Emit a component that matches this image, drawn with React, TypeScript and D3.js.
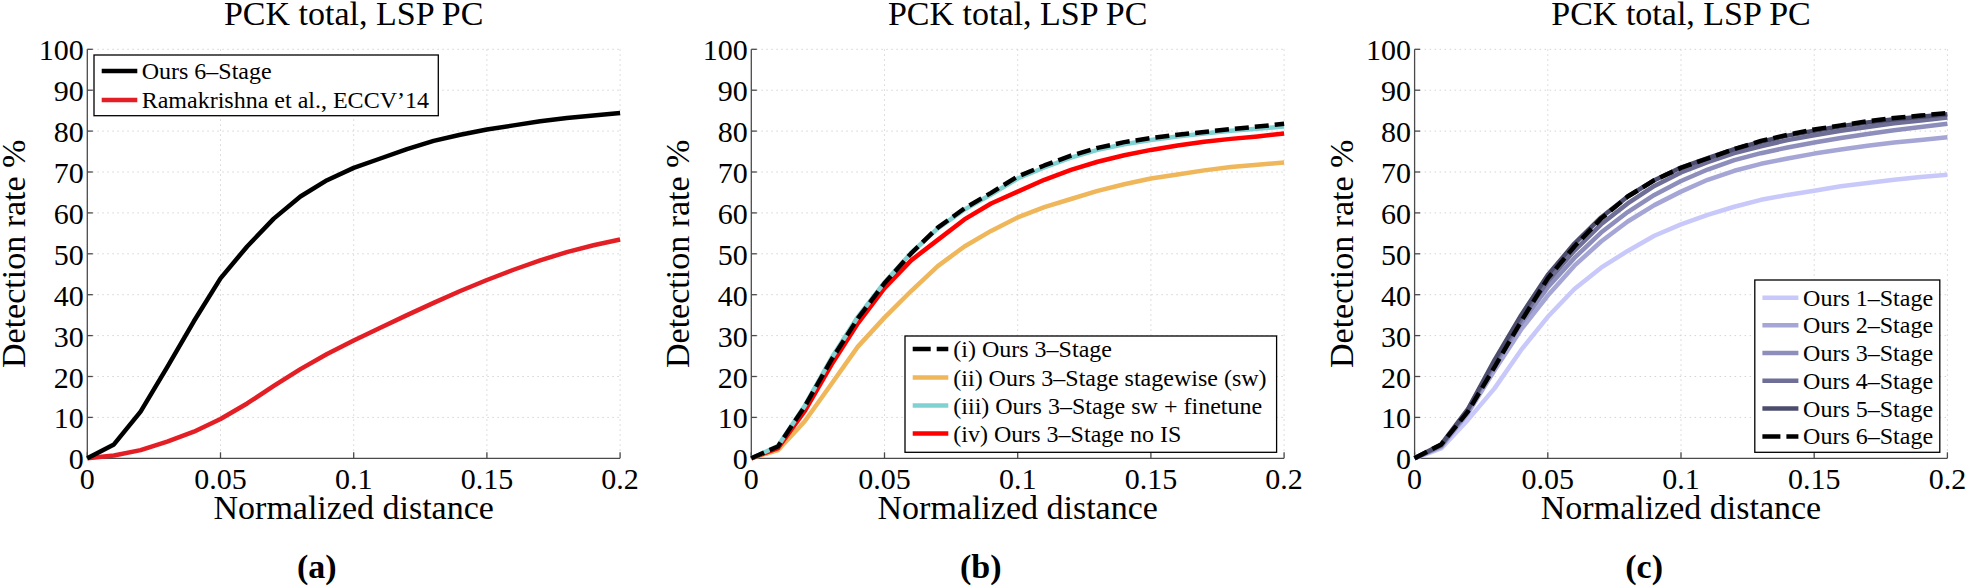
import React from "react";
import * as d3 from "d3";

const distances = [0, 0.01, 0.02, 0.03, 0.04, 0.05, 0.06, 0.07, 0.08, 0.09, 0.1, 0.11, 0.12, 0.13, 0.14, 0.15, 0.16, 0.17, 0.18, 0.19, 0.2];
const xTicks = [0, 0.05, 0.1, 0.15, 0.2];
const xTickLabels = ["0", "0.05", "0.1", "0.15", "0.2"];
const yTicks = [0, 10, 20, 30, 40, 50, 60, 70, 80, 90, 100];

const oursSixStage = [0, 3.4, 11.4, 22.3, 33.5, 44.0, 51.8, 58.6, 64.0, 68.0, 71.0, 73.3, 75.6, 77.6, 79.1, 80.4, 81.4, 82.4, 83.2, 83.8, 84.4];
const ramakrishna = [0, 0.7, 2.0, 4.1, 6.5, 9.6, 13.4, 17.7, 21.8, 25.5, 28.8, 31.9, 35.0, 38.0, 40.9, 43.6, 46.1, 48.4, 50.4, 52.1, 53.5];

const bThreeStage = [0, 2.9, 12.6, 24.0, 34.2, 42.8, 50.1, 56.4, 61.1, 64.9, 68.9, 71.6, 74.0, 75.9, 77.3, 78.3, 79.1, 79.8, 80.5, 81.1, 81.8];
const bStagewise = [0, 2.0, 9.0, 18.1, 27.3, 34.4, 40.9, 47.0, 51.8, 55.6, 58.9, 61.4, 63.4, 65.4, 67.0, 68.4, 69.4, 70.4, 71.2, 71.8, 72.3];
const bFinetune = [0, 3.0, 12.8, 24.4, 34.6, 43.0, 50.2, 56.2, 60.8, 64.5, 68.4, 71.1, 73.5, 75.4, 76.8, 77.8, 78.7, 79.4, 80.1, 80.6, 81.1];
const bNoIS = [0, 2.5, 11.5, 22.8, 33.0, 41.6, 48.4, 53.4, 58.4, 62.3, 65.2, 68.1, 70.5, 72.5, 74.1, 75.4, 76.5, 77.4, 78.1, 78.7, 79.4];

const cStage1 = [0, 2.4, 9.4, 17.1, 26.5, 34.6, 41.4, 46.6, 50.7, 54.4, 57.2, 59.5, 61.5, 63.2, 64.4, 65.4, 66.5, 67.3, 68.1, 68.8, 69.3];
const cStage2 = [0, 2.8, 11.0, 21.5, 31.5, 39.8, 47.1, 53.0, 57.9, 61.9, 65.2, 68.1, 70.3, 72.0, 73.3, 74.5, 75.5, 76.4, 77.2, 77.8, 78.5];
const cStage3 = [0, 3.0, 11.5, 22.8, 33.0, 41.8, 49.0, 55.2, 60.2, 64.4, 67.8, 70.6, 72.9, 74.6, 76.0, 77.2, 78.3, 79.3, 80.2, 81.0, 81.8];
const cStage4 = [0, 3.2, 11.8, 23.5, 34.0, 43.3, 50.8, 57.2, 62.3, 66.6, 69.9, 72.4, 74.6, 76.3, 77.8, 79.0, 80.1, 81.0, 81.9, 82.6, 83.3];
const cStage5 = [0, 3.4, 12.0, 24.0, 35.0, 44.8, 52.5, 58.9, 64.0, 68.0, 71.1, 73.4, 75.6, 77.4, 78.9, 80.1, 81.2, 82.1, 82.9, 83.5, 84.1];
const cStage6 = oursSixStage;

const titleText = "PCK total, LSP PC";
const xLabel = "Normalized distance";
const yLabel = "Detection rate %";

type Series = { name: string; values: number[]; color: string; dashed?: boolean };

const panels: { sub: string; series: Series[]; drawOrder: number[]; legend: { x: number; y: number; w: number; h: number; rowY: number[]; lineX: [number, number]; textX: number } }[] = [
  {
    sub: "(a)",
    series: [
      { name: "Ours 6–Stage", values: oursSixStage, color: "#000000" },
      { name: "Ramakrishna et al., ECCV’14", values: ramakrishna, color: "#e31e24" },
    ],
    drawOrder: [1, 0],
    legend: { x: 6.7, y: 55, w: 344.3, h: 60.7, rowY: [71, 100], lineX: [14.4, 50], textX: 54.4 },
  },
  {
    sub: "(b)",
    series: [
      { name: "(i) Ours 3–Stage", values: bThreeStage, color: "#000000", dashed: true },
      { name: "(ii) Ours 3–Stage stagewise (sw)", values: bStagewise, color: "#efb65a" },
      { name: "(iii) Ours 3–Stage sw + finetune", values: bFinetune, color: "#80d2d2" },
      { name: "(iv) Ours 3–Stage no IS", values: bNoIS, color: "#ff0000" },
    ],
    drawOrder: [1, 3, 2, 0],
    legend: { x: 153.7, y: 336, w: 371.6, h: 116.3, rowY: [349, 377.5, 405.5, 433.5], lineX: [161.4, 197], textX: 202 },
  },
  {
    sub: "(c)",
    series: [
      { name: "Ours 1–Stage", values: cStage1, color: "#c8c8fb" },
      { name: "Ours 2–Stage", values: cStage2, color: "#a6a6d6" },
      { name: "Ours 3–Stage", values: cStage3, color: "#8e8ebd" },
      { name: "Ours 4–Stage", values: cStage4, color: "#6e6e96" },
      { name: "Ours 5–Stage", values: cStage5, color: "#4c4c6c" },
      { name: "Ours 6–Stage", values: cStage6, color: "#000000", dashed: true },
    ],
    drawOrder: [0, 1, 2, 3, 4, 5],
    legend: { x: 340.2, y: 280, w: 185, h: 172.3, rowY: [297.7, 325.3, 353, 380.8, 408.6, 436.4], lineX: [347.8, 383.8], textX: 388.5 },
  },
];

const axisLefts = [87.3, 751.3, 1414.6];
const plotW = 532.8;
const plotTop = 49.3;
const plotBottom = 458.3;
const FONT = "'Liberation Serif', 'Times New Roman', Times, serif";
const LW = 4.5;
const DASH = "14 6";

function Panel({ idx }: { idx: number }) {
  const p = panels[idx];
  const left = axisLefts[idx];
  const x = d3.scaleLinear().domain([0, 0.2]).range([0, plotW]);
  const y = d3.scaleLinear().domain([0, 100]).range([plotBottom, plotTop]);
  const line = d3
    .line<number>()
    .x((_, i) => x(distances[i]))
    .y((d) => y(d));
  const cx = plotW / 2;
  return (
    <g transform={`translate(${left},0)`}>
      {yTicks.filter((t) => t > 0).map((t) => (
        <line key={"gy" + t} x1={0} x2={plotW} y1={y(t)} y2={y(t)} stroke="#d4d4d4" strokeWidth={1} strokeDasharray="1.5 3.5" />
      ))}
      {xTicks.filter((t) => t > 0).map((t) => (
        <line key={"gx" + t} x1={x(t)} x2={x(t)} y1={plotTop} y2={plotBottom} stroke="#d4d4d4" strokeWidth={1} strokeDasharray="1.5 3.5" />
      ))}
      <line x1={0} x2={0} y1={plotTop} y2={plotBottom} stroke="#4a4a4a" strokeWidth={1.3} />
      <line x1={0} x2={plotW} y1={plotBottom} y2={plotBottom} stroke="#4a4a4a" strokeWidth={1.3} />
      {yTicks.map((t) => (
        <g key={"yt" + t}>
          <line x1={0} x2={5.5} y1={y(t)} y2={y(t)} stroke="#4a4a4a" strokeWidth={1.3} />
          <text x={-3.5} y={y(t) + 11} textAnchor="end" fontFamily={FONT} fontSize={30} fill="#000">
            {t}
          </text>
        </g>
      ))}
      {xTicks.map((t, i) => (
        <g key={"xt" + t}>
          <line x1={x(t)} x2={x(t)} y1={plotBottom} y2={plotBottom - 6} stroke="#4a4a4a" strokeWidth={1.3} />
          <text x={x(t)} y={489} textAnchor="middle" fontFamily={FONT} fontSize={30} fill="#000">
            {xTickLabels[i]}
          </text>
        </g>
      ))}
      {p.drawOrder.map((si) => {
        const s = p.series[si];
        return (
          <path
            key={"s" + si}
            d={line(s.values) || ""}
            fill="none"
            stroke={s.color}
            strokeWidth={LW}
            strokeDasharray={s.dashed ? DASH : undefined}
            strokeLinejoin="round"
          />
        );
      })}
      <rect x={p.legend.x} y={p.legend.y} width={p.legend.w} height={p.legend.h} fill="#fff" stroke="#000" strokeWidth={1.3} />
      {p.series.map((s, i) => (
        <g key={"lg" + i}>
          <line
            x1={p.legend.lineX[0]}
            x2={p.legend.lineX[1]}
            y1={p.legend.rowY[i]}
            y2={p.legend.rowY[i]}
            stroke={s.color}
            strokeWidth={LW}
            strokeDasharray={s.dashed ? "18 6" : undefined}
          />
          <text x={p.legend.textX} y={p.legend.rowY[i] + 8} fontFamily={FONT} fontSize={24} fill="#000">
            {s.name}
          </text>
        </g>
      ))}
      <text x={cx} y={25} textAnchor="middle" fontFamily={FONT} fontSize={34} fill="#000">
        {titleText}
      </text>
      <text x={cx} y={519} textAnchor="middle" fontFamily={FONT} fontSize={34} fill="#000">
        {xLabel}
      </text>
      <text
        transform={`translate(-62,${(plotTop + plotBottom) / 2}) rotate(-90)`}
        textAnchor="middle"
        fontFamily={FONT}
        fontSize={34}
        fill="#000"
      >
        {yLabel}
      </text>
      <text x={229.5} y={578} textAnchor="middle" fontFamily={FONT} fontSize={34} fontWeight="bold" fill="#000">
        {p.sub}
      </text>
    </g>
  );
}

export default function App() {
  return (
    <svg
      width={1967}
      height={588}
      viewBox="0 0 1967 588"
      style={{ position: "absolute", left: 0, top: 0, background: "#fff" }}
    >
      <rect x={0} y={0} width={1967} height={588} fill="#fff" />
      {panels.map((_, i) => (
        <Panel key={i} idx={i} />
      ))}
    </svg>
  );
}
